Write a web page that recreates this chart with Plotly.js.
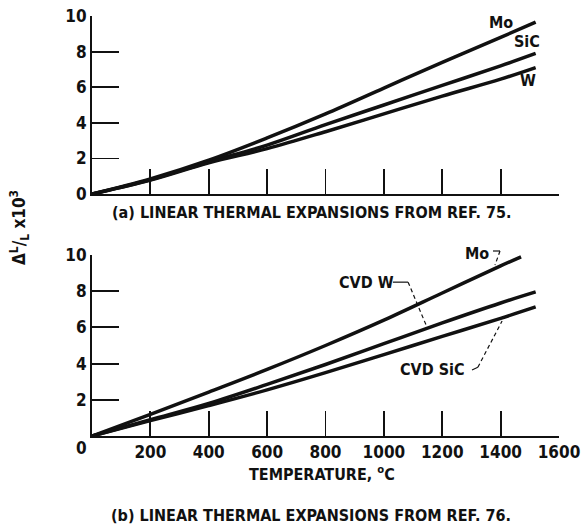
<!DOCTYPE html>
<html>
<head>
<meta charset="utf-8">
<script src="https://cdn.plot.ly/plotly-3.0.1.min.js"></script>
<style>html,body{margin:0;padding:0;background:#fff;}#chart{width:583px;height:529px;}</style>
</head>
<body>
<div id="chart"></div>
<script>
// ---- data (a) Ref. 75 ----
const tempA = [0, 200, 400, 600, 800, 1000, 1200, 1400, 1520];
const moA   = [0, 0.85, 1.9, 3.15, 4.5, 5.95, 7.4, 8.8, 9.65];
const sicA  = [0, 0.8, 1.8, 2.75, 3.9, 5.0, 6.1, 7.2, 7.9];
const wA    = [0, 0.78, 1.75, 2.55, 3.5, 4.5, 5.5, 6.45, 7.1];
// ---- data (b) Ref. 76 ----
const tempMoB = [0, 200, 400, 600, 800, 1000, 1200, 1400, 1470];
const moB     = [0, 1.2, 2.43, 3.68, 5.0, 6.4, 7.9, 9.4, 9.9];
const tempB   = [0, 200, 400, 600, 800, 1000, 1200, 1400, 1520];
const cvdWB   = [0, 0.9, 1.8, 2.85, 3.95, 5.1, 6.25, 7.35, 7.96];
const cvdSicB = [0, 0.85, 1.68, 2.55, 3.5, 4.5, 5.5, 6.5, 7.13];
// ---- ticks ----
const xTicks = [200, 400, 600, 800, 1000, 1200, 1400, 1600];
const yTicksA = [0, 2, 4, 6, 8, 10];
const yTicksB = [2, 4, 6, 8, 10];

const FONT = 'DejaVu Sans Condensed, Liberation Sans Narrow, sans-serif';
const INK = '#111';
const lineStyle = {color: INK, width: 3.5, shape: 'spline', smoothing: 1};

const traces = [
  {x: tempA, y: moA, xaxis: 'x', yaxis: 'y', mode: 'lines', line: lineStyle, name: 'Mo'},
  {x: tempA, y: sicA, xaxis: 'x', yaxis: 'y', mode: 'lines', line: lineStyle, name: 'SiC'},
  {x: tempA, y: wA, xaxis: 'x', yaxis: 'y', mode: 'lines', line: lineStyle, name: 'W'},
  {x: tempMoB, y: moB, xaxis: 'x2', yaxis: 'y2', mode: 'lines', line: lineStyle, name: 'Mo'},
  {x: tempB, y: cvdWB, xaxis: 'x2', yaxis: 'y2', mode: 'lines', line: lineStyle, name: 'CVD W'},
  {x: tempB, y: cvdSicB, xaxis: 'x2', yaxis: 'y2', mode: 'lines', line: lineStyle, name: 'CVD SiC'}
];

const tickFont = {family: FONT, size: 17, color: INK, weight: 'bold'};
const axBase = {
  range: [0, 1600], showgrid: false, zeroline: false, showline: true,
  linecolor: INK, linewidth: 2, ticks: 'inside', ticklen: 25, tickwidth: 1.8,
  tickcolor: INK, tickmode: 'array', tickvals: xTicks, fixedrange: true
};
const ayBase = {
  range: [0, 10], showgrid: false, zeroline: false, showline: true,
  linecolor: INK, linewidth: 2, ticks: 'inside', ticklen: 27, tickwidth: 1.8,
  tickcolor: INK, tickmode: 'array', fixedrange: true, tickfont: tickFont
};

// pixel placement helpers (paper coords from pixels)
const W = 583, H = 529, ML = 92, MR = 24, MT = 16, MB = 93;
const px = v => (v - ML) / (W - ML - MR);
const py = v => (H - MB - v) / (H - MT - MB);

const ann = (text, x, y, xref, yref, size, extra) => Object.assign({
  text, x, y, xref, yref, showarrow: false, xanchor: 'center', yanchor: 'middle',
  font: {family: FONT, size: size, color: INK, weight: 'bold'}
}, extra || {});

const annotations = [
  ann('Mo', 1401, 9.66, 'x', 'y', 16),
  ann('SiC', 1490, 8.54, 'x', 'y', 16),
  ann('W', 1494, 6.4, 'x', 'y', 16),
  ann('Mo', px(477), py(253), 'paper', 'paper', 16),
  ann('CVD W', 939, 8.5, 'x2', 'y2', 16),
  ann('CVD SiC', 1165, 3.7, 'x2', 'y2', 16),
  ann('0', px(81), py(448), 'paper', 'paper', 17),
  ann('(a) LINEAR THERMAL EXPANSIONS FROM REF. 75.', px(311), py(212), 'paper', 'paper', 16),
  ann('TEMPERATURE, <sup>o</sup>C', px(322), py(474), 'paper', 'paper', 16),
  ann('(b) LINEAR THERMAL EXPANSIONS FROM REF. 76.', px(311), py(515), 'paper', 'paper', 16),
  ann('Δ<sup>L</sup>/<sub>L</sub> x10<sup>3</sup>', px(19), py(228), 'paper', 'paper', 17, {textangle: -90})
];

const dash = {color: INK, width: 1.2, dash: '4px,3px'};
const solid = {color: INK, width: 1.2};
const shapes = [
  {type: 'line', xref: 'paper', yref: 'paper', x0: px(493), y0: py(251), x1: px(500), y1: py(251), line: solid},
  {type: 'line', xref: 'paper', yref: 'paper', x0: px(500), y0: py(251), x1: px(495), y1: py(265), line: dash},
  {type: 'line', xref: 'x2', yref: 'y2', x0: 1031, y0: 8.5, x1: 1083, y1: 8.5, line: solid},
  {type: 'line', xref: 'x2', yref: 'y2', x0: 1083, y0: 8.5, x1: 1148, y1: 6.0, line: dash},
  {type: 'line', xref: 'x2', yref: 'y2', x0: 1302, y0: 3.65, x1: 1322, y1: 3.8, line: solid},
  {type: 'line', xref: 'x2', yref: 'y2', x0: 1322, y0: 3.8, x1: 1405, y1: 6.35, line: dash}
];

const layout = {
  width: W, height: H,
  margin: {l: ML, r: MR, t: MT, b: MB},
  paper_bgcolor: '#fff', plot_bgcolor: '#fff',
  showlegend: false,
  font: {family: FONT, color: INK},
  xaxis: Object.assign({}, axBase, {anchor: 'y', showticklabels: false}),
  yaxis: Object.assign({}, ayBase, {domain: [py(194), 1], anchor: 'x', tickvals: yTicksA}),
  xaxis2: Object.assign({}, axBase, {anchor: 'y2', showticklabels: true, tickfont: tickFont, ticklabelstandoff: 0}),
  yaxis2: Object.assign({}, ayBase, {domain: [0, py(255)], anchor: 'x2', tickvals: yTicksB}),
  annotations, shapes
};

Plotly.newPlot('chart', traces, layout, {staticPlot: true, displayModeBar: false});
</script>
</body>
</html>
